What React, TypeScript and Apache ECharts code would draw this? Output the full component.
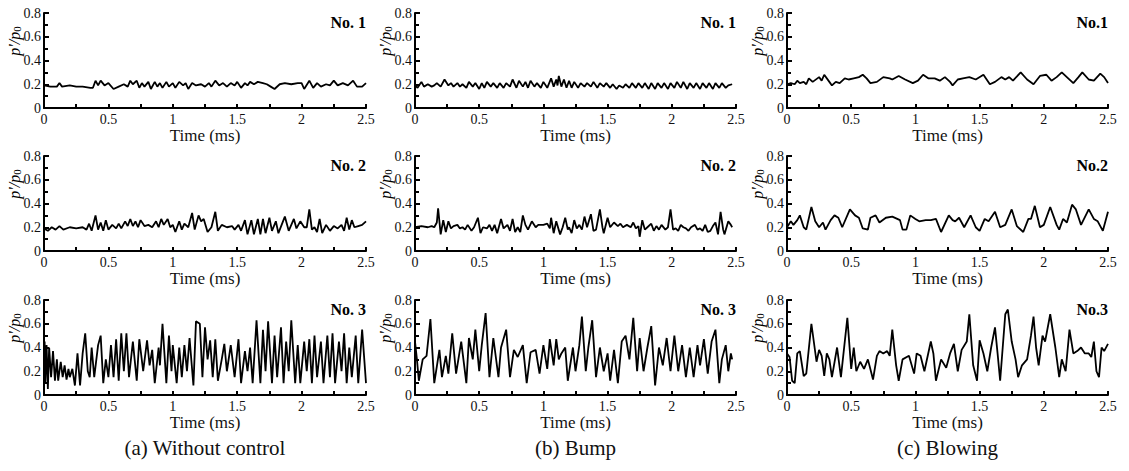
import React, { useEffect, useRef } from "react";
import * as echarts from "echarts";

type P = [number, number][];

const xTicks = ["0", "0.5", "1", "1.5", "2", "2.5"];
const yTicks = ["0", "0.2", "0.4", "0.6", "0.8"];
const columnCaptions = ["(a) Without control", "(b) Bump", "(c) Blowing"];
const panelTitles = [
  ["No. 1", "No. 2", "No. 3"],
  ["No. 1", "No. 2", "No. 3"],
  ["No.1", "No.2", "No.3"],
];

const noControl1: P = [[0,0.19],[0.05,0.18],[0.1,0.18],[0.12,0.21],[0.14,0.18],[0.2,0.19],[0.25,0.18],[0.3,0.18],[0.36,0.17],[0.38,0.17],[0.4,0.23],[0.42,0.19],[0.44,0.23],[0.47,0.19],[0.5,0.21],[0.54,0.16],[0.58,0.18],[0.62,0.2],[0.65,0.18],[0.67,0.23],[0.69,0.2],[0.72,0.23],[0.74,0.17],[0.76,0.21],[0.78,0.18],[0.81,0.22],[0.83,0.16],[0.86,0.22],[0.88,0.18],[0.9,0.21],[0.92,0.17],[0.95,0.22],[0.97,0.18],[1.0,0.21],[1.02,0.17],[1.05,0.22],[1.08,0.19],[1.1,0.21],[1.12,0.16],[1.15,0.21],[1.18,0.19],[1.22,0.2],[1.25,0.18],[1.28,0.21],[1.3,0.18],[1.33,0.23],[1.36,0.19],[1.39,0.21],[1.42,0.18],[1.45,0.21],[1.48,0.19],[1.5,0.22],[1.53,0.17],[1.56,0.21],[1.58,0.19],[1.6,0.22],[1.63,0.2],[1.66,0.22],[1.7,0.21],[1.73,0.2],[1.76,0.18],[1.79,0.16],[1.83,0.2],[1.87,0.21],[1.92,0.2],[1.97,0.21],[2.0,0.21],[2.02,0.16],[2.06,0.23],[2.09,0.17],[2.12,0.21],[2.15,0.18],[2.19,0.2],[2.22,0.19],[2.25,0.23],[2.28,0.19],[2.32,0.21],[2.36,0.19],[2.4,0.23],[2.43,0.18],[2.47,0.18],[2.5,0.21]];

const noControl2: P = [[0,0.19],[0.03,0.17],[0.06,0.2],[0.09,0.18],[0.12,0.21],[0.15,0.18],[0.2,0.2],[0.25,0.19],[0.3,0.2],[0.33,0.18],[0.35,0.23],[0.37,0.17],[0.4,0.3],[0.42,0.18],[0.44,0.24],[0.46,0.17],[0.48,0.26],[0.5,0.18],[0.53,0.22],[0.56,0.19],[0.58,0.23],[0.6,0.19],[0.63,0.25],[0.65,0.21],[0.67,0.27],[0.69,0.21],[0.71,0.25],[0.73,0.2],[0.75,0.26],[0.78,0.21],[0.81,0.22],[0.84,0.2],[0.87,0.25],[0.89,0.2],[0.91,0.27],[0.93,0.22],[0.96,0.27],[0.98,0.2],[1.0,0.22],[1.02,0.16],[1.05,0.25],[1.07,0.18],[1.09,0.23],[1.12,0.2],[1.15,0.32],[1.17,0.18],[1.2,0.3],[1.22,0.25],[1.24,0.27],[1.27,0.16],[1.3,0.2],[1.33,0.33],[1.35,0.17],[1.38,0.22],[1.42,0.2],[1.46,0.21],[1.48,0.18],[1.51,0.22],[1.53,0.17],[1.56,0.26],[1.58,0.14],[1.61,0.26],[1.63,0.14],[1.66,0.27],[1.68,0.14],[1.7,0.27],[1.72,0.15],[1.75,0.28],[1.77,0.17],[1.8,0.25],[1.82,0.15],[1.87,0.29],[1.9,0.17],[1.94,0.27],[1.96,0.19],[1.99,0.25],[2.02,0.2],[2.04,0.2],[2.06,0.35],[2.08,0.18],[2.1,0.2],[2.12,0.16],[2.14,0.27],[2.16,0.15],[2.19,0.22],[2.22,0.17],[2.25,0.21],[2.28,0.19],[2.31,0.22],[2.33,0.17],[2.35,0.28],[2.37,0.18],[2.39,0.26],[2.41,0.2],[2.44,0.21],[2.47,0.22],[2.5,0.25]];

const noControl3: P = [[0,0.2],[0.005,0.45],[0.01,0.1],[0.02,0.42],[0.03,0.05],[0.04,0.4],[0.055,0.15],[0.07,0.37],[0.085,0.12],[0.1,0.3],[0.11,0.12],[0.13,0.28],[0.145,0.15],[0.16,0.25],[0.175,0.13],[0.19,0.22],[0.2,0.15],[0.22,0.22],[0.24,0.08],[0.26,0.35],[0.28,0.08],[0.3,0.35],[0.32,0.52],[0.34,0.2],[0.355,0.15],[0.37,0.4],[0.39,0.15],[0.42,0.42],[0.44,0.5],[0.46,0.1],[0.48,0.3],[0.5,0.15],[0.52,0.42],[0.54,0.15],[0.56,0.47],[0.58,0.12],[0.6,0.52],[0.62,0.2],[0.64,0.52],[0.66,0.15],[0.69,0.45],[0.72,0.12],[0.74,0.47],[0.77,0.2],[0.8,0.46],[0.82,0.25],[0.84,0.38],[0.86,0.1],[0.89,0.4],[0.9,0.25],[0.92,0.6],[0.95,0.1],[0.97,0.5],[0.99,0.2],[1.0,0.42],[1.03,0.1],[1.05,0.4],[1.07,0.15],[1.09,0.42],[1.11,0.2],[1.13,0.48],[1.16,0.08],[1.18,0.62],[1.21,0.6],[1.23,0.15],[1.25,0.57],[1.27,0.3],[1.29,0.46],[1.31,0.15],[1.33,0.47],[1.35,0.12],[1.38,0.3],[1.4,0.43],[1.42,0.2],[1.45,0.42],[1.48,0.15],[1.51,0.47],[1.53,0.1],[1.56,0.37],[1.58,0.2],[1.6,0.4],[1.62,0.1],[1.65,0.63],[1.68,0.1],[1.7,0.55],[1.72,0.2],[1.74,0.62],[1.77,0.1],[1.79,0.5],[1.81,0.15],[1.84,0.57],[1.86,0.1],[1.88,0.45],[1.9,0.2],[1.92,0.63],[1.95,0.1],[1.97,0.42],[1.99,0.1],[2.02,0.45],[2.04,0.2],[2.06,0.47],[2.08,0.1],[2.1,0.5],[2.12,0.15],[2.15,0.45],[2.17,0.1],[2.2,0.5],[2.22,0.15],[2.24,0.52],[2.26,0.1],[2.29,0.45],[2.31,0.2],[2.33,0.52],[2.35,0.1],[2.37,0.4],[2.39,0.15],[2.42,0.5],[2.44,0.1],[2.47,0.55],[2.5,0.1]];

const bump1: P = [[0,0.19],[0.02,0.17],[0.05,0.22],[0.07,0.18],[0.1,0.2],[0.13,0.18],[0.15,0.19],[0.17,0.21],[0.2,0.18],[0.23,0.24],[0.26,0.19],[0.28,0.21],[0.3,0.18],[0.33,0.21],[0.35,0.18],[0.37,0.2],[0.4,0.17],[0.42,0.22],[0.45,0.18],[0.47,0.21],[0.5,0.16],[0.52,0.21],[0.54,0.17],[0.56,0.22],[0.59,0.18],[0.61,0.21],[0.64,0.17],[0.66,0.21],[0.69,0.17],[0.71,0.21],[0.74,0.18],[0.76,0.24],[0.79,0.17],[0.81,0.23],[0.84,0.18],[0.86,0.22],[0.88,0.17],[0.9,0.23],[0.93,0.18],[0.95,0.21],[0.98,0.17],[1.0,0.22],[1.03,0.17],[1.06,0.25],[1.08,0.18],[1.1,0.24],[1.11,0.19],[1.12,0.27],[1.14,0.18],[1.16,0.24],[1.18,0.17],[1.2,0.23],[1.22,0.17],[1.24,0.22],[1.27,0.17],[1.29,0.21],[1.32,0.18],[1.34,0.21],[1.37,0.18],[1.39,0.22],[1.42,0.17],[1.44,0.21],[1.47,0.18],[1.49,0.21],[1.52,0.17],[1.54,0.2],[1.57,0.16],[1.59,0.19],[1.62,0.17],[1.64,0.2],[1.67,0.17],[1.69,0.21],[1.72,0.17],[1.74,0.21],[1.77,0.17],[1.79,0.21],[1.82,0.16],[1.84,0.21],[1.87,0.16],[1.89,0.21],[1.92,0.17],[1.94,0.21],[1.97,0.16],[1.99,0.21],[2.02,0.17],[2.04,0.22],[2.07,0.17],[2.09,0.22],[2.12,0.16],[2.14,0.21],[2.17,0.17],[2.19,0.21],[2.22,0.16],[2.24,0.21],[2.27,0.17],[2.29,0.21],[2.32,0.16],[2.34,0.21],[2.37,0.17],[2.39,0.21],[2.42,0.17],[2.44,0.19],[2.47,0.2]];

const bump2: P = [[0,0.2],[0.05,0.21],[0.1,0.2],[0.13,0.21],[0.15,0.2],[0.17,0.24],[0.18,0.36],[0.2,0.14],[0.22,0.26],[0.24,0.16],[0.26,0.25],[0.28,0.19],[0.3,0.21],[0.33,0.22],[0.35,0.19],[0.37,0.2],[0.39,0.18],[0.41,0.22],[0.44,0.17],[0.46,0.2],[0.49,0.28],[0.51,0.15],[0.53,0.2],[0.56,0.19],[0.58,0.22],[0.6,0.17],[0.62,0.22],[0.64,0.15],[0.67,0.27],[0.69,0.19],[0.72,0.22],[0.74,0.17],[0.76,0.27],[0.78,0.16],[0.8,0.2],[0.82,0.16],[0.84,0.3],[0.86,0.22],[0.88,0.18],[0.91,0.25],[0.94,0.2],[0.96,0.22],[1.0,0.22],[1.03,0.23],[1.05,0.19],[1.06,0.28],[1.08,0.15],[1.1,0.25],[1.13,0.14],[1.15,0.2],[1.17,0.28],[1.19,0.18],[1.2,0.2],[1.22,0.15],[1.24,0.26],[1.26,0.19],[1.28,0.22],[1.3,0.18],[1.32,0.29],[1.34,0.2],[1.37,0.31],[1.39,0.17],[1.41,0.18],[1.44,0.35],[1.46,0.2],[1.47,0.15],[1.5,0.28],[1.52,0.2],[1.55,0.24],[1.58,0.21],[1.6,0.23],[1.62,0.2],[1.65,0.22],[1.68,0.2],[1.7,0.24],[1.72,0.19],[1.74,0.21],[1.75,0.12],[1.77,0.26],[1.79,0.18],[1.81,0.2],[1.84,0.23],[1.86,0.17],[1.88,0.21],[1.9,0.18],[1.92,0.22],[1.95,0.18],[1.97,0.2],[1.99,0.35],[2.01,0.18],[2.03,0.19],[2.05,0.17],[2.07,0.22],[2.09,0.2],[2.11,0.19],[2.13,0.17],[2.15,0.2],[2.18,0.22],[2.2,0.18],[2.22,0.19],[2.24,0.17],[2.26,0.22],[2.28,0.16],[2.3,0.17],[2.32,0.21],[2.34,0.24],[2.36,0.14],[2.38,0.33],[2.4,0.18],[2.41,0.14],[2.44,0.25],[2.46,0.22],[2.47,0.2]];

const bump3: P = [[0,0.45],[0.015,0.3],[0.03,0.12],[0.06,0.3],[0.09,0.33],[0.12,0.64],[0.15,0.1],[0.19,0.38],[0.21,0.15],[0.24,0.33],[0.26,0.18],[0.29,0.52],[0.32,0.18],[0.36,0.45],[0.4,0.1],[0.42,0.48],[0.45,0.3],[0.47,0.55],[0.5,0.2],[0.52,0.42],[0.55,0.69],[0.58,0.15],[0.61,0.48],[0.65,0.15],[0.67,0.4],[0.71,0.55],[0.74,0.15],[0.77,0.38],[0.8,0.32],[0.84,0.42],[0.87,0.1],[0.9,0.36],[0.94,0.38],[0.97,0.18],[1.0,0.42],[1.03,0.22],[1.05,0.47],[1.08,0.25],[1.1,0.47],[1.12,0.3],[1.14,0.35],[1.17,0.4],[1.19,0.12],[1.23,0.4],[1.25,0.2],[1.28,0.42],[1.3,0.66],[1.33,0.2],[1.35,0.4],[1.38,0.63],[1.41,0.15],[1.44,0.4],[1.47,0.2],[1.5,0.35],[1.52,0.12],[1.55,0.38],[1.58,0.1],[1.61,0.45],[1.64,0.5],[1.67,0.3],[1.7,0.65],[1.73,0.2],[1.75,0.48],[1.78,0.2],[1.81,0.4],[1.84,0.58],[1.87,0.08],[1.9,0.4],[1.93,0.25],[1.96,0.48],[1.99,0.2],[2.02,0.5],[2.05,0.2],[2.08,0.42],[2.11,0.15],[2.14,0.4],[2.17,0.15],[2.2,0.42],[2.22,0.25],[2.25,0.47],[2.28,0.18],[2.31,0.45],[2.34,0.55],[2.37,0.1],[2.39,0.3],[2.42,0.42],[2.44,0.2],[2.46,0.35],[2.47,0.3]];

const blowing1: P = [[0,0.2],[0.03,0.21],[0.06,0.2],[0.08,0.23],[0.1,0.21],[0.13,0.22],[0.15,0.2],[0.17,0.25],[0.2,0.22],[0.25,0.26],[0.27,0.23],[0.29,0.28],[0.33,0.22],[0.35,0.19],[0.38,0.22],[0.41,0.21],[0.45,0.25],[0.48,0.24],[0.52,0.25],[0.56,0.26],[0.59,0.28],[0.62,0.25],[0.65,0.21],[0.7,0.22],[0.75,0.26],[0.8,0.25],[0.82,0.24],[0.87,0.27],[0.92,0.24],[0.98,0.21],[1.02,0.23],[1.06,0.28],[1.1,0.25],[1.15,0.25],[1.19,0.23],[1.23,0.26],[1.27,0.22],[1.29,0.19],[1.33,0.24],[1.37,0.25],[1.42,0.26],[1.47,0.24],[1.53,0.28],[1.58,0.2],[1.62,0.22],[1.67,0.26],[1.7,0.24],[1.73,0.26],[1.76,0.23],[1.82,0.3],[1.87,0.24],[1.92,0.2],[1.97,0.27],[2.02,0.28],[2.06,0.23],[2.1,0.26],[2.14,0.3],[2.19,0.25],[2.23,0.21],[2.27,0.26],[2.3,0.3],[2.35,0.24],[2.39,0.23],[2.44,0.29],[2.47,0.26],[2.5,0.21]];

const blowing2: P = [[0,0.2],[0.03,0.25],[0.05,0.22],[0.08,0.26],[0.1,0.3],[0.13,0.2],[0.15,0.18],[0.19,0.37],[0.22,0.25],[0.25,0.2],[0.28,0.24],[0.3,0.18],[0.34,0.26],[0.37,0.3],[0.4,0.28],[0.43,0.2],[0.49,0.35],[0.53,0.3],[0.56,0.28],[0.59,0.19],[0.63,0.18],[0.65,0.28],[0.69,0.3],[0.72,0.24],[0.77,0.28],[0.82,0.29],[0.88,0.26],[0.9,0.18],[0.93,0.18],[0.96,0.3],[1.0,0.27],[1.03,0.25],[1.08,0.26],[1.12,0.26],[1.16,0.27],[1.2,0.16],[1.26,0.3],[1.29,0.26],[1.31,0.25],[1.34,0.28],[1.38,0.2],[1.43,0.3],[1.47,0.2],[1.5,0.17],[1.54,0.27],[1.57,0.25],[1.62,0.33],[1.66,0.2],[1.7,0.22],[1.75,0.35],[1.79,0.21],[1.84,0.16],[1.88,0.27],[1.9,0.27],[1.93,0.38],[1.97,0.2],[2.0,0.22],[2.05,0.37],[2.1,0.22],[2.12,0.18],[2.15,0.27],[2.18,0.24],[2.22,0.39],[2.25,0.35],[2.29,0.22],[2.35,0.35],[2.39,0.27],[2.42,0.25],[2.46,0.17],[2.5,0.33]];

const blowing3: P = [[0,0.35],[0.02,0.32],[0.04,0.12],[0.06,0.1],[0.08,0.35],[0.1,0.37],[0.13,0.16],[0.15,0.18],[0.19,0.6],[0.23,0.28],[0.25,0.38],[0.27,0.33],[0.29,0.16],[0.31,0.35],[0.33,0.3],[0.35,0.15],[0.39,0.4],[0.42,0.15],[0.47,0.65],[0.5,0.22],[0.52,0.4],[0.54,0.2],[0.57,0.28],[0.6,0.22],[0.63,0.3],[0.67,0.13],[0.7,0.33],[0.72,0.37],[0.75,0.35],[0.78,0.37],[0.8,0.33],[0.82,0.55],[0.85,0.25],[0.87,0.12],[0.9,0.3],[0.95,0.33],[0.99,0.18],[1.01,0.35],[1.04,0.33],[1.07,0.2],[1.12,0.45],[1.14,0.35],[1.16,0.12],[1.2,0.3],[1.24,0.23],[1.27,0.35],[1.3,0.43],[1.33,0.2],[1.36,0.38],[1.4,0.45],[1.42,0.68],[1.45,0.25],[1.48,0.12],[1.5,0.46],[1.53,0.35],[1.56,0.2],[1.59,0.4],[1.62,0.57],[1.64,0.35],[1.66,0.12],[1.7,0.68],[1.72,0.72],[1.75,0.45],[1.78,0.3],[1.8,0.15],[1.83,0.25],[1.87,0.3],[1.9,0.5],[1.92,0.66],[1.94,0.4],[1.96,0.25],[1.99,0.5],[2.01,0.45],[2.05,0.68],[2.09,0.4],[2.12,0.15],[2.14,0.3],[2.17,0.2],[2.2,0.55],[2.23,0.35],[2.26,0.37],[2.29,0.4],[2.32,0.35],[2.35,0.35],[2.37,0.32],[2.39,0.45],[2.41,0.2],[2.43,0.15],[2.45,0.4],[2.47,0.37],[2.5,0.43]];

const seriesByColumn: P[][] = [
  [noControl1, noControl2, noControl3],
  [bump1, bump2, bump3],
  [blowing1, blowing2, blowing3],
];

const FONT = "Liberation Serif";
const colLeft = [44, 415, 787];
const colWidth = [322, 321, 321];
const rowTop = [13, 156, 300];
const rowNameGap = [15, 15, 19];
const plotH = 95;

export default function App() {
  const ref = useRef<HTMLDivElement>(null);
  useEffect(() => {
    if (!ref.current) return;
    const chart = echarts.init(ref.current, undefined, { renderer: "svg" });
    const grid: any[] = [];
    const xAxis: any[] = [];
    const yAxis: any[] = [];
    const series: any[] = [];
    const graphic: any[] = [];
    let idx = 0;
    for (let c = 0; c < 3; c++) {
      for (let r = 0; r < 3; r++) {
        grid.push({ left: colLeft[c], top: rowTop[r], width: colWidth[c], height: plotH });
        xAxis.push({
          type: "value",
          gridIndex: idx,
          min: 0,
          max: 2.5,
          interval: 0.5,
          name: "Time (ms)",
          nameLocation: "middle",
          nameGap: rowNameGap[r],
          nameTextStyle: { fontFamily: FONT, fontSize: 17, fontWeight: "normal", color: "#111", verticalAlign: "top" },
          axisLine: { show: true, onZero: false, lineStyle: { color: "#000", width: 2 } },
          axisTick: { show: true, inside: true, length: 4, lineStyle: { color: "#000", width: 2 } },
          minorTick: { show: true, splitNumber: 2, length: 4, lineStyle: { color: "#000", width: 2 } },
          splitLine: { show: false },
          axisLabel: {
            fontFamily: FONT,
            fontSize: 14,
            fontWeight: "normal",
            color: "#111",
            margin: 4,
            formatter: (v: number) => xTicks[Math.round(v / 0.5)] ?? "",
          },
        });
        yAxis.push({
          type: "value",
          gridIndex: idx,
          min: 0,
          max: 0.8,
          interval: 0.2,
          axisLine: { show: true, onZero: false, lineStyle: { color: "#000", width: 2 } },
          axisTick: { show: true, inside: true, length: 5, lineStyle: { color: "#000", width: 2 } },
          minorTick: { show: true, splitNumber: 2, length: 4, lineStyle: { color: "#000", width: 2 } },
          splitLine: { show: false },
          axisLabel: {
            fontFamily: FONT,
            fontSize: 14,
            fontWeight: "normal",
            color: "#111",
            margin: 3,
            formatter: (v: number) => yTicks[Math.round(v / 0.2)] ?? "",
          },
        });
        series.push({
          type: "line",
          xAxisIndex: idx,
          yAxisIndex: idx,
          data: seriesByColumn[c][r],
          showSymbol: false,
          symbol: "none",
          lineStyle: { color: "#000", width: 1.8 },
          silent: true,
        });
        graphic.push({
          type: "text",
          x: colLeft[c] - 30,
          y: rowTop[r] + 28,
          rotation: Math.PI / 2,
          style: {
            text: "{i|p'/p}{s|0}",
            align: "center",
            verticalAlign: "middle",
            fill: "#000",
            rich: {
              i: { fontFamily: FONT, fontStyle: "italic", fontSize: 16, fill: "#000" },
              s: { fontFamily: FONT, fontSize: 11, fill: "#000", verticalAlign: "bottom", padding: [6, 0, 0, 0] },
            },
          },
        });
        graphic.push({
          type: "text",
          x: colLeft[c] + colWidth[c],
          y: rowTop[r] + 9,
          style: {
            text: panelTitles[c][r],
            align: "right",
            verticalAlign: "middle",
            fontFamily: FONT,
            fontWeight: "bold",
            fontSize: 16,
            fill: "#000",
          },
        });
        idx++;
      }
      graphic.push({
        type: "text",
        x: colLeft[c] + colWidth[c] / 2,
        y: 448,
        style: {
          text: columnCaptions[c],
          align: "center",
          verticalAlign: "middle",
          fontFamily: FONT,
          fontSize: 21,
          fill: "#111",
        },
      });
    }
    chart.setOption({
      animation: false,
      backgroundColor: "#fff",
      textStyle: { fontFamily: FONT },
      grid,
      xAxis,
      yAxis,
      series,
      graphic,
    });
    return () => chart.dispose();
  }, []);
  return (
    <div
      ref={ref}
      style={{ position: "absolute", left: 0, top: 0, width: 1129, height: 471 }}
    />
  );
}
